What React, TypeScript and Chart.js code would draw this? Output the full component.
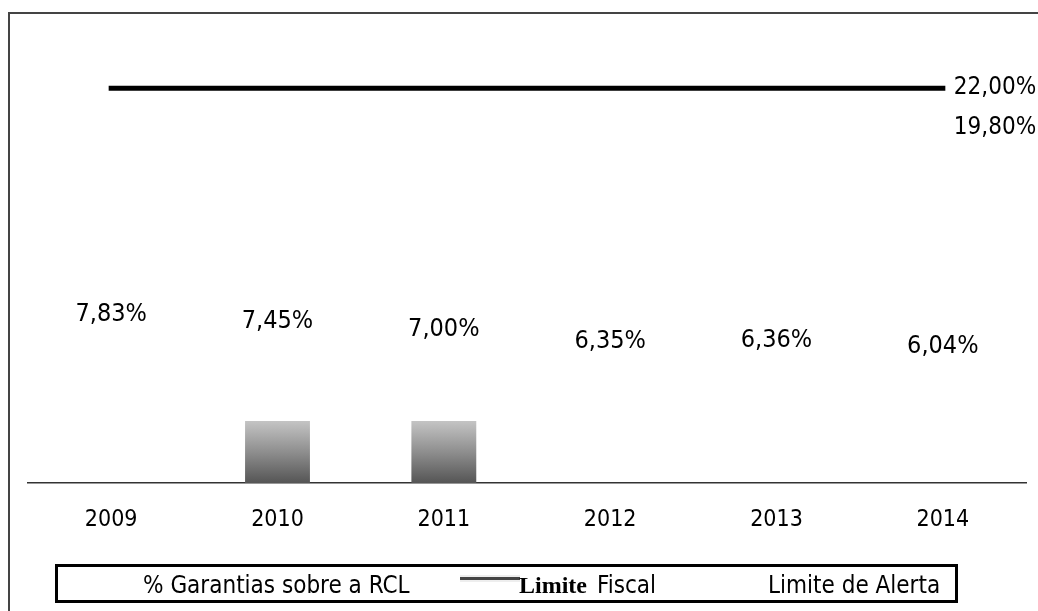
import React, { useEffect, useRef } from "react";
import { Chart, registerables } from "chart.js";

Chart.register(...registerables);

const anos = ["2009", "2010", "2011", "2012", "2013", "2014"];
const garantias = [7.83, 7.45, 7.0, 6.35, 6.36, 6.04];
const limiteFiscal = [22, 22, 22, 22, 22, 22];
const limiteAlerta = [19.8, 19.8, 19.8, 19.8, 19.8, 19.8];
const sombra = [null, 3.45, 3.45, null, null, null];

const FONT = "'DejaVu Sans Condensed', 'DejaVu Sans', sans-serif";
const fmt = (v: number) => v.toFixed(2).replace(".", ",") + "%";

const labelsPlugin = {
  id: "valueLabels",
  afterDatasetsDraw(chart: any) {
    const ctx = chart.ctx;
    ctx.save();
    ctx.fillStyle = "#000";
    const m0 = chart.getDatasetMeta(0);
    ctx.font = `25px ${FONT}`;
    ctx.textAlign = "center";
    ctx.textBaseline = "middle";
    m0.data.forEach((el: any, i: number) => {
      ctx.fillText(fmt(garantias[i]), el.x, el.y - 28);
    });
    ctx.font = `24px ${FONT}`;
    ctx.textAlign = "left";
    [2, 3].forEach((di) => {
      const meta = chart.getDatasetMeta(di);
      const data = chart.data.datasets[di].data as number[];
      const last = meta.data[meta.data.length - 1];
      ctx.fillText(fmt(data[data.length - 1]), last.x + 11, last.y);
    });
    ctx.restore();
  },
};

export default function App() {
  const ref = useRef<HTMLCanvasElement>(null);
  useEffect(() => {
    if (!ref.current) return;
    const chart = new Chart(ref.current, {
      type: "bar",
      data: {
        labels: anos,
        datasets: [
          {
            type: "bar",
            label: "% Garantias sobre a RCL",
            data: garantias,
            backgroundColor: "rgba(255,255,255,0)",
            grouped: false,
            order: 3,
          } as any,
          {
            type: "bar",
            label: "sombra",
            data: sombra,
            grouped: false,
            barPercentage: 0.39,
            categoryPercentage: 1,
            order: 4,
            backgroundColor: (c: any) => {
              const ch = c.chart;
              const area = ch.chartArea;
              if (!area) return "#888";
              const top = ch.scales.y.getPixelForValue(3.45);
              const g = ch.ctx.createLinearGradient(0, top, 0, area.bottom);
              g.addColorStop(0, "#c4c4c4");
              g.addColorStop(0.5, "#8e8e8e");
              g.addColorStop(1, "#555555");
              return g;
            },
          } as any,
          {
            type: "line",
            label: "Limite Fiscal",
            data: limiteFiscal,
            borderColor: "#000",
            borderWidth: 5,
            borderCapStyle: "square",
            pointRadius: 0,
            order: 1,
          } as any,
          {
            type: "line",
            label: "Limite de Alerta",
            data: limiteAlerta,
            borderColor: "rgba(255,255,255,0)",
            borderWidth: 2,
            pointRadius: 0,
            order: 2,
          } as any,
        ],
      },
      options: {
        animation: false,
        responsive: false,
        maintainAspectRatio: false,
        layout: { padding: { left: 28, right: 12, top: 34.3, bottom: 62.4 } },
        plugins: { legend: { display: false }, tooltip: { enabled: false } },
        scales: {
          x: {
            grid: { display: false },
            border: { display: true, color: "#333", width: 1.5 },
            ticks: { color: "#000", padding: 15, font: { family: FONT, size: 23 } },
          },
          y: { display: false, min: 0, max: 25 },
        },
      },
      plugins: [labelsPlugin],
    });
    return () => chart.destroy();
  }, []);

  const txt: React.CSSProperties = {
    position: "absolute",
    top: 572,
    lineHeight: "26px",
    fontFamily: FONT,
    fontSize: 24,
    color: "#000",
    whiteSpace: "nowrap",
  };

  return (
    <div style={{ position: "fixed", left: 0, top: 0, width: 1038, height: 611, background: "#fff", overflow: "hidden" }}>
      <div style={{ position: "absolute", left: 8, top: 12, width: 1100, height: 700, borderLeft: "2px solid #444", borderTop: "2px solid #444" }} />
      <canvas ref={ref} width={1038} height={611} style={{ position: "absolute", left: 0, top: 0 }} />
      <div style={{ position: "absolute", left: 55, top: 564, width: 903, height: 39, border: "3px solid #000", boxSizing: "border-box" }} />
      <span style={{ ...txt, left: 143 }}>% Garantias sobre a RCL</span>
      <div style={{ position: "absolute", left: 460, top: 575, width: 60, height: 7, background: "#eee" }} />
      <div style={{ position: "absolute", left: 460, top: 577, width: 60, height: 3, background: "#444" }} />
      <span style={{ ...txt, left: 519, fontFamily: "'Liberation Serif', serif", fontWeight: "bold", fontSize: 24 }}>Limite</span>
      <span style={{ ...txt, left: 597 }}>Fiscal</span>
      <span style={{ ...txt, left: 768 }}>Limite de Alerta</span>
    </div>
  );
}
